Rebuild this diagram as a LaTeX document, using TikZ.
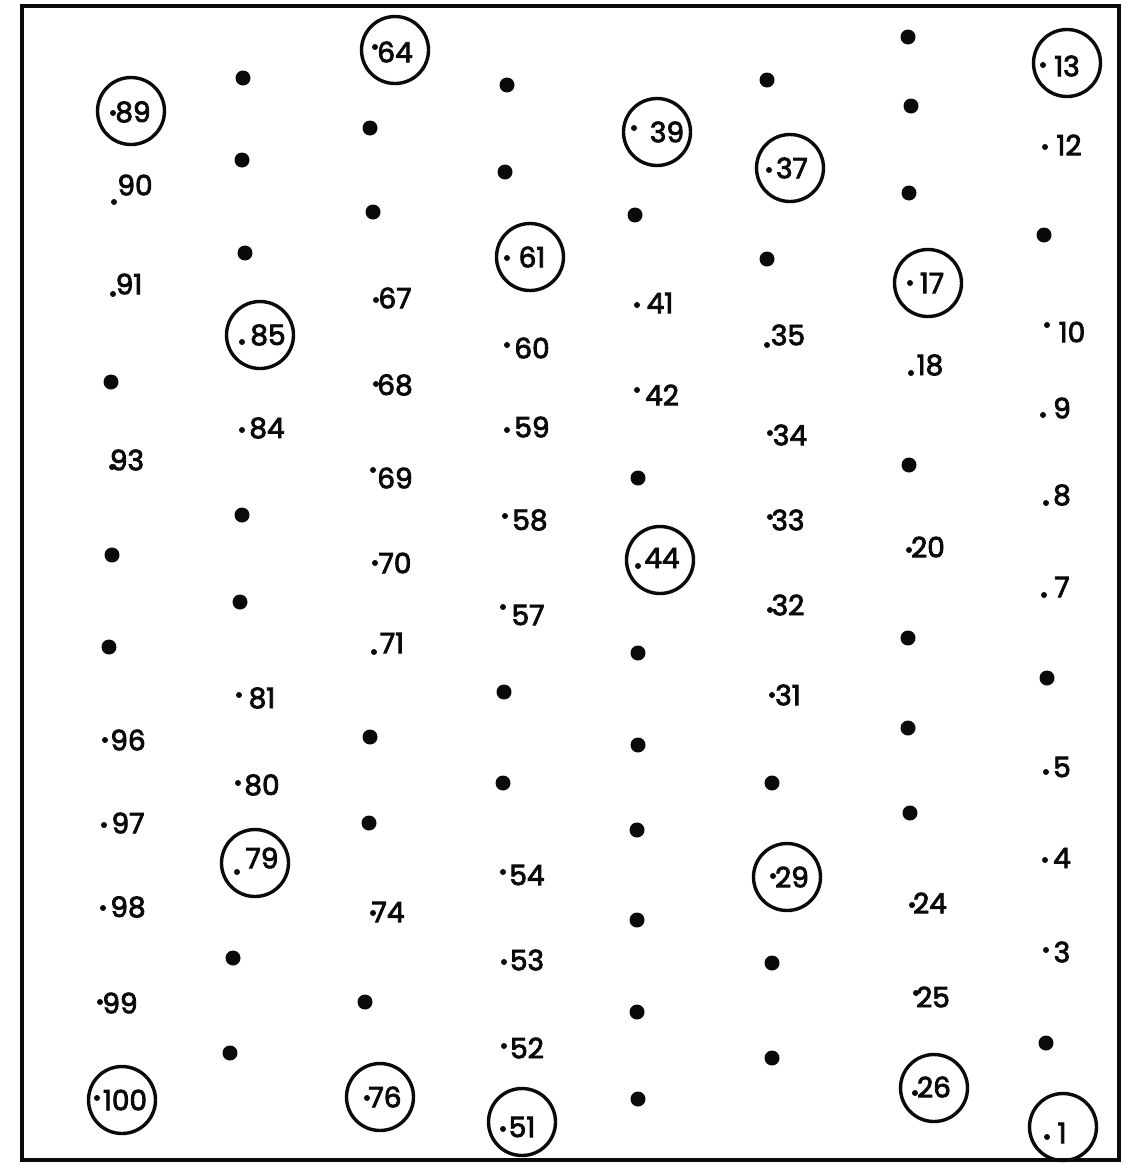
\documentclass[tikz,border=0pt]{standalone}
\usepackage{fontspec}
\setmainfont{Poppins}
\newfontfamily\numfont{Poppins}[FakeBold=3]
\usepackage{tikz}
\usetikzlibrary{positioning}
\definecolor{DG}{RGB}{10,10,10}

\begin{document}
\begin{tikzpicture}[x=1pt,y=-1pt,
  bigdot/.style={circle,fill=DG,inner sep=0pt,minimum size=15pt},
  smalldot/.style={circle,fill=DG,inner sep=0pt,minimum size=6pt},
  num/.style={inner sep=0pt,text=DG,font=\numfont\fontsize{28}{30}\selectfont},
  ring/.style={circle,draw=DG,line width=3.4pt,inner sep=0pt,minimum size=67pt}]
\useasboundingbox (0,0) rectangle (1124,1165);
\fill[white] (0,0) rectangle (1124,1165);
\draw[DG, line width=4pt] (22,6) rectangle (1119,1160);

% unlabelled trees
\foreach \n/\x/\y in {92/111/382, 94/112/555, 95/109/647,
  88/243/78, 87/242/160, 86/245/253, 83/242/515, 82/240/602, 78/233/958, 77/230/1053,
  65/370/128, 66/373/212, 72/370/737, 73/369/823, 75/365/1002,
  63/507/85, 62/505/172, 56/504/692, 55/503/783,
  40/635/215, 43/638/478, 45/638/653, 46/638/745, 47/637/830, 48/637/920, 49/637/1012, 50/638/1099,
  38/767/80, 36/767/259, 30/772/783, 28/772/963, 27/772/1058,
  14/908/37, 15/911/106, 16/909/193, 19/909/465, 21/908/638, 22/908/728, 23/910/813,
  11/1044/235, 6/1047/678, 2/1046/1043}
  \node[bigdot] (p\n) at (\x,\y) {};

% numbered trees
\foreach \n/\x/\y/\tx/\ty in {90/114/202/135/185, 91/113/294/129/284, 93/112/467/127/460,
  96/105/740/128/740, 97/104/825/128/823, 98/103/908/128/907, 99/100/1002/120/1003,
  84/242/430/267/428, 81/239/695/262/698, 80/238/783/262/785,
  67/376/300/395/298, 68/376/384/395/385, 69/373/470/395/478, 70/375/563/395/563,
  71/374/652/392/643, 74/373/913/388/912,
  60/507/345/532/348, 59/507/430/532/427, 58/505/516/530/520, 57/503/607/528/615,
  54/503/872/527/875, 53/504/962/527/960, 52/504/1046/527/1048,
  41/637/305/660/303, 42/637/390/662/395,
  35/767/345/788/335, 34/770/433/790/435, 33/770/517/788/520, 32/770/610/788/605, 31/772/695/788/695,
  18/911/373/930/365, 20/909/550/928/547, 24/912/905/930/903, 25/916/993/933/997,
  12/1045/147/1069/145, 10/1047/325/1072/332, 9/1043/415/1062/408, 8/1046/503/1062/495,
  7/1044/595/1062/587, 5/1046/772/1062/767, 4/1045/860/1062/858, 3/1046/950/1062/952}
{
  \node[smalldot] (p\n) at (\x,\y) {};
  \node[num] (l\n) at (\tx,\ty) {\n};
}

% sampled trees (circled)
\foreach \n/\x/\y/\tx/\ty/\cx/\cy in {89/113/113/133/112/131/111, 85/242/342/268/335/260/335,
  79/237/872/262/858/255/863, 100/97/1098/125/1100/122/1100,
  64/375/47/395/52/395/50, 76/367/1098/385/1097/380/1097,
  61/507/258/532/257/530/257, 51/503/1129/522/1127/522/1122,
  39/634/128/667/132/657/132, 44/638/566/662/558/660/560,
  37/769/170/792/168/790/168, 29/773/876/792/877/787/877,
  17/910/283/932/283/928/283, 26/915/1093/934/1087/934/1088,
  13/1043/65/1067/66/1067/63, 1/1047/1137/1062/1133/1063/1127}
{
  \node[smalldot] (p\n) at (\x,\y) {};
  \node[num] (l\n) at (\tx,\ty) {\n};
  \node[ring] (c\n) at (\cx,\cy) {};
}
\end{tikzpicture}
\end{document}
